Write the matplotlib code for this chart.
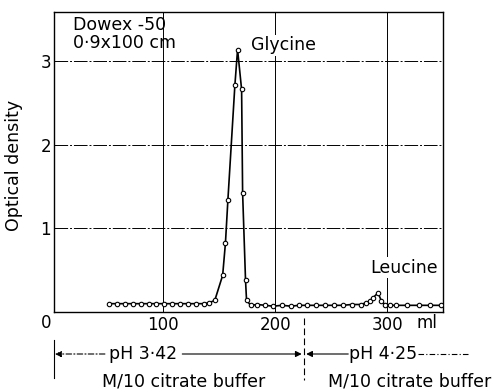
import numpy as np
import matplotlib
matplotlib.use("Agg")
import matplotlib.pyplot as plt

# elution volume (ml) and optical density
vol = [52, 59, 66, 73, 80, 87, 94, 101, 108, 115, 122, 129, 136, 141,
       146, 153, 155.5, 157.7, 163.9, 166.3, 169.9, 170.8, 173.4, 174.3,
       178, 184, 191, 198, 206, 214, 221, 228, 236, 244, 252, 260, 268, 276,
       281, 284, 287, 291.6, 294.6, 297.6, 302, 308, 317, 328, 338, 348]
od = [0.09, 0.09, 0.09, 0.09, 0.09, 0.09, 0.09, 0.09, 0.09, 0.09, 0.09, 0.09, 0.09, 0.10,
      0.13, 0.43, 0.82, 1.34, 2.71, 3.14, 2.66, 1.42, 0.37, 0.13,
      0.07, 0.08, 0.07, 0.06, 0.07, 0.06, 0.07, 0.07, 0.07, 0.07, 0.07, 0.07, 0.08, 0.08,
      0.10, 0.12, 0.16, 0.22, 0.12, 0.08, 0.07, 0.07, 0.07, 0.07, 0.07, 0.07]

xticks = [100, 200, 300]
yticks = [1, 2, 3]

plt.rcParams['font.family'] = ['DejaVu Sans']
fig = plt.figure(figsize=(4.95, 3.92), dpi=100)
W, H = 495, 392
ax = fig.add_axes([54 / W, 1 - 312 / H, (443 - 54) / W, 300 / H])

ax.set_xlim(2.6, 349.5)
ax.set_ylim(-0.01, 3.59)

# grid
for g in xticks:
    ax.axvline(g, color='black', lw=0.7, zorder=1)
for g in yticks:
    ax.axhline(g, color='black', lw=0.7, dashes=(14, 2, 2, 2), zorder=1)

ax.plot(vol, od, color='black', lw=1.2, marker='o', ms=3.2,
        mfc='white', mec='black', mew=0.8, zorder=3)

fs = 12.5
ax.set_xticks(xticks)
ax.set_xticklabels([str(t) for t in xticks])
ax.set_yticks(yticks)
ax.tick_params(length=0, labelsize=12, pad=2)
ax.tick_params(axis='x', pad=3)
for s in ax.spines.values():
    s.set_linewidth(1.0)

ax.text(-4, -0.03, "0", ha='center', va='top', fontsize=12, clip_on=False)
ax.text(335, -0.03, "ml", ha='center', va='top', fontsize=12, clip_on=False)
ax.set_ylabel("Optical density", fontsize=12.5, va='center')
ax.yaxis.set_label_coords(-0.103, 0.49)

ax.text(0.05, 0.985, "Dowex -50\n0·9x100 cm", transform=ax.transAxes,
        ha='left', va='top', fontsize=fs, linespacing=0.95)
ax.text(178, 3.19, "Glycine", ha='left', va='center', fontsize=fs,
        bbox=dict(fc='white', ec='none', pad=1), zorder=4)
ax.text(345, 0.52, "Leucine", ha='right', va='center', fontsize=fs,
        bbox=dict(fc='white', ec='none', pad=1), zorder=4)

# pH bands below the axis (x in data, y in axes fraction)
tr = ax.get_xaxis_transform()
yl = (312 - 354) / 300
ax.plot([2.6, 2.6], [(312 - 340) / 300, (312 - 378) / 300], transform=tr,
        color='black', lw=0.8, clip_on=False)
ax.plot([225.5, 225.5], [(312 - 318) / 300, (312 - 380) / 300], transform=tr,
        color='black', lw=0.8, dashes=(6, 3), clip_on=False)
ax.annotate("", xy=(3.5, yl), xytext=(48, yl), xycoords=tr, textcoords=tr,
            arrowprops=dict(arrowstyle='-|>', color='black', lw=0.8,
                            linestyle=(0, (5, 2, 1, 2)), mutation_scale=9,
                            shrinkA=0, shrinkB=0))
ax.text(82, yl, "pH 3·42", transform=tr, ha='center', va='center', fontsize=fs)
ax.annotate("", xy=(223.5, yl), xytext=(117, yl), xycoords=tr, textcoords=tr,
            arrowprops=dict(arrowstyle='-|>', color='black', lw=0.8,
                            mutation_scale=9, shrinkA=0, shrinkB=0))
ax.annotate("", xy=(227.5, yl), xytext=(265, yl), xycoords=tr, textcoords=tr,
            arrowprops=dict(arrowstyle='-|>', color='black', lw=0.8,
                            mutation_scale=9, shrinkA=0, shrinkB=0))
ax.text(296, yl, "pH 4·25", transform=tr, ha='center', va='center', fontsize=fs)
ax.plot([327, 373], [yl, yl], transform=tr, color='black', lw=0.8,
        dashes=(5, 2, 1, 2), clip_on=False)

yb = (312 - 382) / 300
ax.text(118, yb, "M/10 citrate buffer", transform=tr, ha='center', va='center', fontsize=fs)
ax.text(320, yb, "M/10 citrate buffer", transform=tr, ha='center', va='center', fontsize=fs)

fig.savefig("out.png", dpi=100)
